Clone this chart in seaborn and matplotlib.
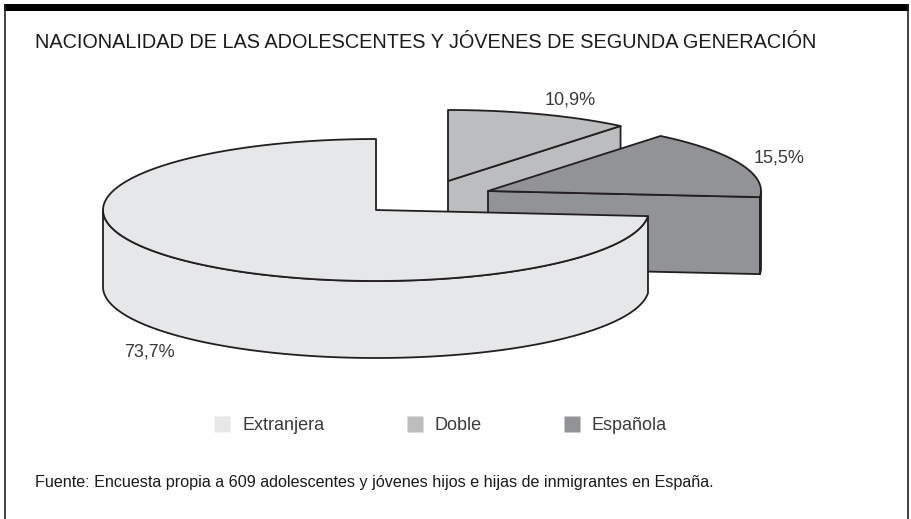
import numpy as np
import matplotlib
matplotlib.use("Agg")
import matplotlib.pyplot as plt
from matplotlib.patches import Polygon, Rectangle
from matplotlib.lines import Line2D
import seaborn as sns

# Survey shares (percent)
categories = ["Extranjera", "Doble", "Española"]
shares = [73.7, 10.9, 15.5]
value_labels = ["73,7%", "10,9%", "15,5%"]

title = "NACIONALIDAD DE LAS ADOLESCENTES Y JÓVENES DE SEGUNDA GENERACIÓN"
source = "Fuente: Encuesta propia a 609 adolescentes y jóvenes hijos e hijas de inmigrantes en España."

sns.set_theme(style="white")
plt.rcParams["font.family"] = ["Liberation Sans", "DejaVu Sans"]

palette = dict(zip(categories, sns.color_palette(["#e6e7e8", "#bcbdbf", "#929396"])))
edge = "#231f20"
text_col = "#3a3a3a"

W, H = 911, 519
fig = plt.figure(figsize=(W / 100, H / 100), dpi=100)
ax = fig.add_axes([0, 0, 1, 1])
ax.set_xlim(0, W)
ax.set_ylim(H, 0)
ax.axis("off")

# Pie geometry (pixel space, y grows downward)
cx, cy = 376.0, 210.0
rx, ry = 273.0, 71.0
depth = 77.0
explode = {"Extranjera": (0.0, 0.0), "Doble": (72.0, -29.0), "Española": (112.0, -19.0)}
lw = 1.3


def pt(c, ang):
    a = np.deg2rad(ang)
    return np.array([c[0] + rx * np.cos(a), c[1] - ry * np.sin(a)])


def arc(c, a_from, a_to, n=120):
    angs = np.linspace(a_from, a_to, n)
    return np.array([pt(c, a) for a in angs])


def draw_slice(name, hi, lo, z):
    col = palette[name]
    dx, dy = explode[name]
    c = np.array([cx + dx, cy + dy])
    down = np.array([0.0, depth])
    # radial face at the clockwise end
    if np.cos(np.deg2rad(lo)) > 1e-6:
        p = pt(c, lo)
        face = np.array([c, p, p + down, c + down])
        ax.add_patch(Polygon(face, closed=True, fc=col, ec=edge, lw=lw, zorder=z, joinstyle="round"))
    # radial face at the counter-clockwise end
    if np.cos(np.deg2rad(hi)) < -1e-6:
        p = pt(c, hi)
        face = np.array([c, p, p + down, c + down])
        ax.add_patch(Polygon(face, closed=True, fc=col, ec=edge, lw=lw, zorder=z, joinstyle="round"))
    # outer wall on the front half of the ellipse
    for k in (-1, 0, 1):
        f0, f1 = -180 + 360 * k, 0 + 360 * k
        a0, a1 = max(lo, f0), min(hi, f1)
        if a1 - a0 > 1e-6:
            top = arc(c, a0, a1)
            wall = np.vstack([top, (top + down)[::-1]])
            ax.add_patch(Polygon(wall, closed=True, fc=col, ec=edge, lw=lw, zorder=z + 0.1, joinstyle="round"))
    # top face
    top = np.vstack([c, arc(c, hi, lo)])
    ax.add_patch(Polygon(top, closed=True, fc=col, ec=edge, lw=lw, zorder=z + 0.2, joinstyle="round"))


# Slices run clockwise from 12 o'clock: Doble, Española, Extranjera
total = sum(shares)
order = ["Doble", "Española", "Extranjera"]
start = 90.0
bounds = {}
for name in order:
    sweep = shares[categories.index(name)] / total * 360.0
    bounds[name] = (start, start - sweep)
    start -= sweep

for z, name in enumerate(order):
    hi, lo = bounds[name]
    draw_slice(name, hi, lo, 2 + z)

# Percentage labels
label_pos = {"Extranjera": (149, 352), "Doble": (570, 100), "Española": (779, 158)}
for name, lab in zip(categories, value_labels):
    x, y = label_pos[name]
    ax.text(x, y, lab, ha="center", va="center", fontsize=13, color=text_col, zorder=10)

# Title and source
ax.text(35, 43, title, ha="left", va="center", fontsize=14.35, color="#1a1a1a")
ax.text(35, 482, source, ha="left", va="center", fontsize=11.6, color="#1a1a1a")

# Frame: heavy top rule and thin side rules
ax.add_patch(Rectangle((4, 4), 905, 7, fc="black", ec="none", zorder=20))
ax.plot([4.5, 4.5], [4, H], color="#222222", lw=1.2, zorder=20, solid_capstyle="butt")
ax.plot([908, 908], [4, H], color="#222222", lw=1.2, zorder=20, solid_capstyle="butt")

# Legend
handles = [Line2D([0], [0], marker="s", ls="none", markersize=11.5,
                  markerfacecolor=palette[n], markeredgecolor="none") for n in categories]
fig.legend(handles, categories, loc="center", bbox_to_anchor=(440 / W, 1 - 426 / H),
           ncol=3, frameon=False, fontsize=13, handletextpad=0.6, columnspacing=4.5,
           labelcolor=text_col, handlelength=1.0)

fig.savefig("out.png", dpi=100)
